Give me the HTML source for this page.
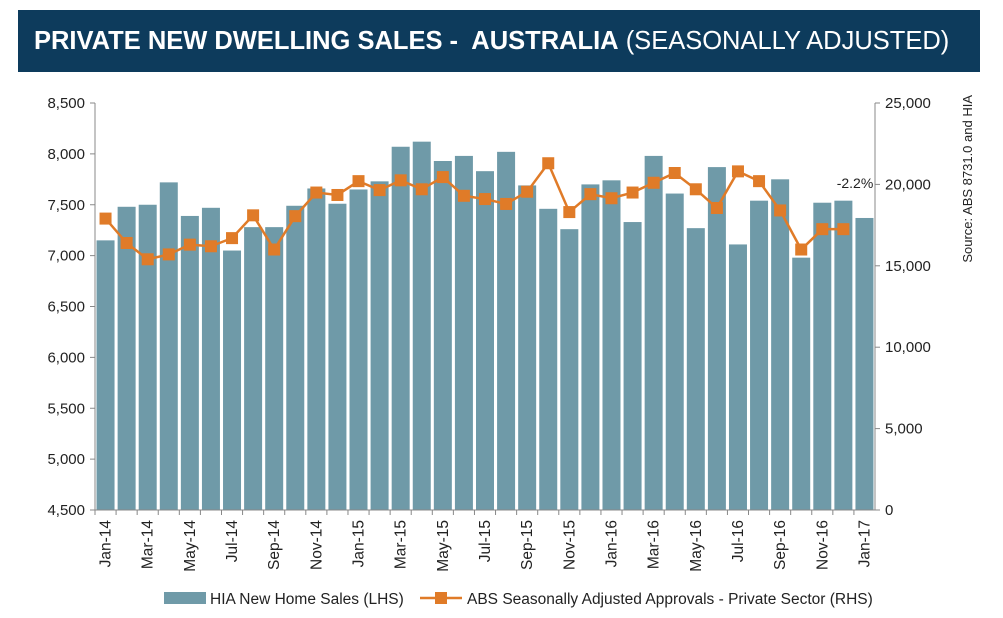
<!DOCTYPE html>
<html><head><meta charset="utf-8"><style>
body{margin:0;background:#fff;width:1003px;height:618px;overflow:hidden;font-family:"Liberation Sans",sans-serif;}
#title{position:absolute;left:18px;top:10px;width:962px;height:62px;background:#0d3b5c;color:#fff;font-size:25.5px;line-height:62px;padding-left:16px;box-sizing:border-box;}
</style></head><body>
<div id="title"><b>PRIVATE NEW DWELLING SALES -&nbsp; AUSTRALIA</b> (SEASONALLY ADJUSTED)</div>
<svg id="chart" width="1003" height="618" style="position:absolute;left:0;top:0"></svg>
<script>
const categories=["Jan-14","Feb-14","Mar-14","Apr-14","May-14","Jun-14","Jul-14","Aug-14","Sep-14","Oct-14","Nov-14","Dec-14","Jan-15","Feb-15","Mar-15","Apr-15","May-15","Jun-15","Jul-15","Aug-15","Sep-15","Oct-15","Nov-15","Dec-15","Jan-16","Feb-16","Mar-16","Apr-16","May-16","Jun-16","Jul-16","Aug-16","Sep-16","Oct-16","Nov-16","Dec-16","Jan-17"];
const hiaSales=[7150,7480,7500,7720,7390,7470,7050,7280,7280,7490,7660,7510,7650,7730,8070,8120,7930,7980,7830,8020,7690,7460,7260,7700,7740,7330,7980,7610,7270,7870,7110,7540,7750,6980,7520,7540,7370];
const absApprovals=[17900,16400,15400,15700,16300,16200,16700,18100,16000,18050,19500,19350,20200,19650,20250,19700,20450,19300,19100,18800,19550,21300,18300,19400,19150,19500,20100,20700,19700,18550,20800,20200,18400,16000,17250,17250];
const leftTicks=[4500,5000,5500,6000,6500,7000,7500,8000,8500];
const rightTicks=[0,5000,10000,15000,20000,25000];
const NS="http://www.w3.org/2000/svg";
const svg=document.getElementById('chart');
const X0=95,X1=875,Y0=510,Y1=103;
const bw=(X1-X0)/categories.length;
const xc=i=>X0+bw*(i+0.5);
const yL=v=>Y0-(v-4500)/(8500-4500)*(Y0-Y1);
const yR=v=>Y0-v/25000*(Y0-Y1);
function mk(t,a,p){const e=document.createElementNS(NS,t);for(const k in a)e.setAttribute(k,a[k]);(p||svg).appendChild(e);return e;}
hiaSales.forEach((v,i)=>{
 const r=mk('rect',{x:xc(i)-9,y:yL(v),width:18,height:Y0-yL(v),fill:'#6f9aa8'});
 
 
});
mk('line',{x1:X0,y1:Y1,x2:X0,y2:Y0,stroke:'#888'});
mk('line',{x1:X1,y1:Y1,x2:X1,y2:Y0,stroke:'#888'});
mk('line',{x1:X0,y1:Y0,x2:X1,y2:Y0,stroke:'#888'});
leftTicks.forEach(v=>{
 mk('line',{x1:X0-5,y1:yL(v),x2:X0,y2:yL(v),stroke:'#888'});
 const t=mk('text',{x:X0-10,y:yL(v)+5,'text-anchor':'end','font-size':15,fill:'#222'});t.textContent=v.toLocaleString('en-US');
 
 
});
rightTicks.forEach(v=>{
 mk('line',{x1:X1,y1:yR(v),x2:X1+5,y2:yR(v),stroke:'#888'});
 const t=mk('text',{x:X1+10,y:yR(v)+5,'font-size':15,fill:'#222'});t.textContent=v.toLocaleString('en-US');
 
 
});
categories.forEach((c,i)=>{
 mk('line',{x1:X0+bw*i,y1:Y0,x2:X0+bw*i,y2:Y0+5,stroke:'#888'});
 if(i%2===0){const t=mk('text',{x:0,y:0,'text-anchor':'end','font-size':15.5,fill:'#222',transform:`translate(${xc(i)+5},${Y0+10}) rotate(-90)`});t.textContent=c;
 
 }
});
const pl=mk('polyline',{points:absApprovals.map((v,i)=>xc(i)+','+yR(v)).join(' '),fill:'none',stroke:'#e07b28','stroke-width':2.5});


absApprovals.forEach((v,i)=>{
 const m=mk('rect',{x:xc(i)-6,y:yR(v)-6,width:12,height:12,fill:'#e07b28'});
 
 
});
const ann=mk('text',{x:855,y:188,'text-anchor':'middle','font-size':14,fill:'#222'});ann.textContent='-2.2%';


const src=mk('text',{x:0,y:0,'text-anchor':'end','font-size':13,fill:'#222',transform:'translate(972,95) rotate(-90)'});src.textContent='Source: ABS 8731.0 and HIA';


const lg=mk('g',{});


mk('rect',{x:164,y:592,width:42,height:12,fill:'#6f9aa8'},lg);
const l1=mk('text',{x:210,y:604,'font-size':15.5,fill:'#222'},lg);l1.textContent='HIA New Home Sales (LHS)';
mk('line',{x1:420,y1:598,x2:462,y2:598,stroke:'#e07b28','stroke-width':2.5},lg);
mk('rect',{x:435,y:592,width:12,height:12,fill:'#e07b28'},lg);
const l2=mk('text',{x:467,y:604,'font-size':15.5,fill:'#222'},lg);l2.textContent='ABS Seasonally Adjusted Approvals - Private Sector (RHS)';
</script>
</body></html>
